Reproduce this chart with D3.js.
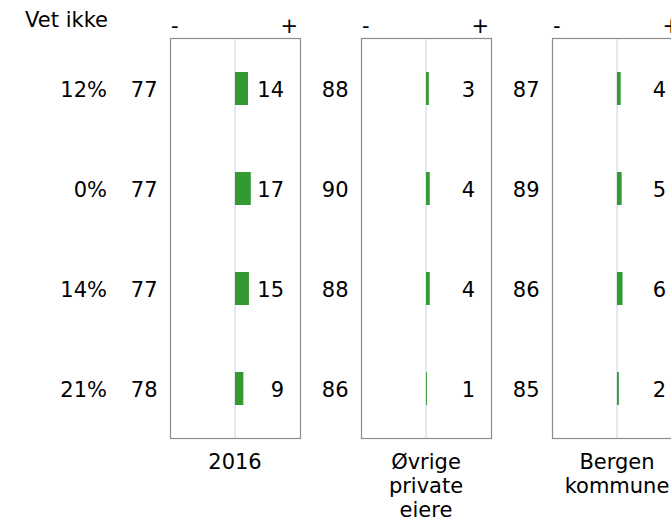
<!DOCTYPE html>
<html><head><meta charset="utf-8">
<script src="https://cdn.jsdelivr.net/npm/d3@7/dist/d3.min.js"></script>
<style>body{margin:0;background:#fff}svg{display:block}text{font-family:"DejaVu Sans",Verdana,sans-serif;font-size:21px;fill:#000}</style>
</head><body><svg id="c" width="671" height="521"></svg>
<script>
const rows = ["r1","r2","r3","r4"];
const vetIkke = ["12%","0%","14%","21%"];
const panelNames = [["2016"],["Øvrige","private","eiere"],["Bergen","kommune"]];
const leftVals = [[77,77,77,78],[88,90,88,86],[87,89,86,85]];
const rightVals = [[14,17,15,9],[3,4,4,1],[4,5,6,2]];

(function(){
const svg = d3.select("#c");
const boxTop = 38, boxBottom = 438, boxW = 130, firstLeft = 170, step = 191;
const y = d3.scaleBand().domain(rows).range([boxTop,boxBottom]);
const barH = 33;

svg.append("text").attr("x",108).attr("y",27).attr("text-anchor","end").text("Vet ikke");
svg.selectAll("text.pct").data(vetIkke).join("text").attr("class","pct")
  .attr("x",107).attr("y",(d,i)=>y(rows[i])+y.bandwidth()/2+9).attr("text-anchor","end").text(d=>d);

panelNames.forEach((name,p)=>{
  const left = firstLeft + p*step;
  const x = d3.scaleLinear().domain([-70,70]).range([left,left+boxW]);
  const g = svg.append("g");
  g.append("rect").attr("x",left+0.5).attr("y",boxTop+0.5).attr("width",boxW).attr("height",boxBottom-boxTop)
    .attr("fill","none").attr("stroke","#8c8c8c").attr("stroke-width",1.2);
  g.append("line").attr("x1",x(0)).attr("x2",x(0)).attr("y1",boxTop+1).attr("y2",boxBottom)
    .attr("stroke","#dcdcf0").attr("stroke-width",1.5);
  g.selectAll("rect.bar").data(rightVals[p]).join("rect").attr("class","bar")
    .attr("x",x(0)).attr("y",(d,i)=>y(rows[i])+y.bandwidth()/2-barH/2+0.5)
    .attr("width",d=>x(d)-x(0)).attr("height",barH).attr("fill","#339933");
  g.selectAll("text.rv").data(rightVals[p]).join("text").attr("class","rv")
    .attr("x",left+boxW-16).attr("y",(d,i)=>y(rows[i])+y.bandwidth()/2+9).attr("text-anchor","end").text(d=>d);
  g.selectAll("text.lv").data(leftVals[p]).join("text").attr("class","lv")
    .attr("x",left-12.5).attr("y",(d,i)=>y(rows[i])+y.bandwidth()/2+9).attr("text-anchor","end").text(d=>d);
  g.append("text").attr("x",left+1).attr("y",33).text("-");
  g.append("text").attr("x",left+boxW-2).attr("y",33).attr("text-anchor","end").text("+");
  name.forEach((t,k)=>{
    g.append("text").attr("x",x(0)).attr("y",469+k*24).attr("text-anchor","middle").text(t);
  });
});
})();
</script></body></html>
